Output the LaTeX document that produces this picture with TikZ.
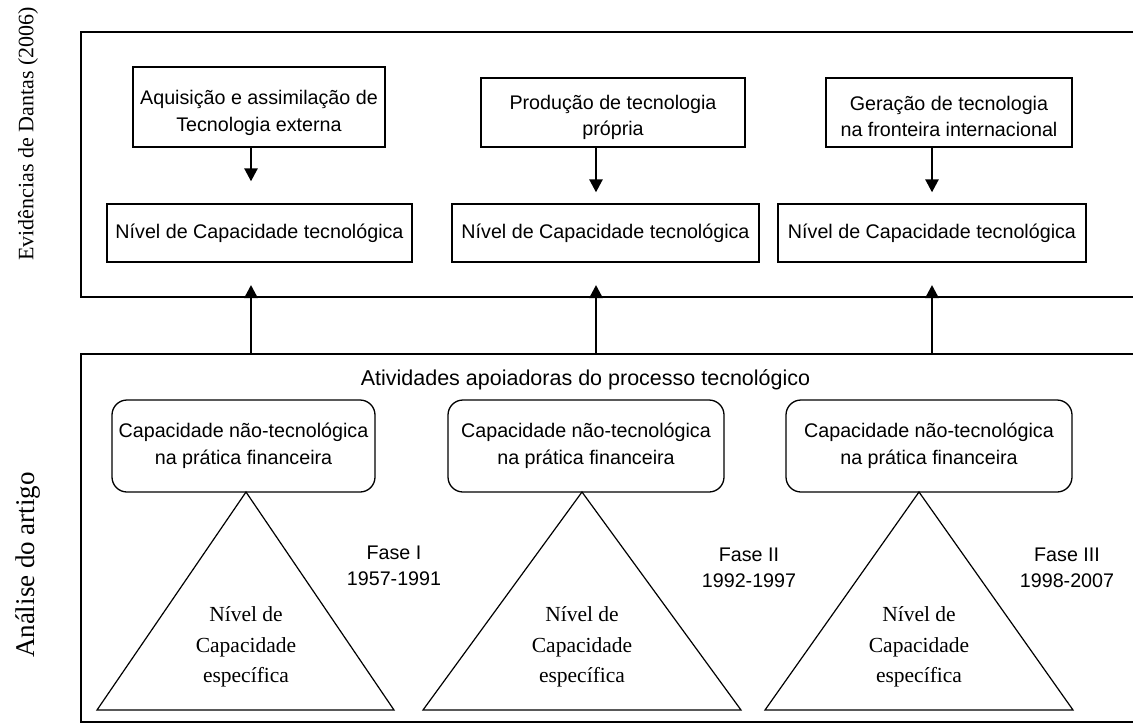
\documentclass[tikz,border=0pt]{standalone}
\usepackage{fontspec}
\setmainfont{Liberation Sans}
\newfontfamily\tms{Liberation Serif}
\usetikzlibrary{arrows.meta}
\begin{document}
\begin{tikzpicture}[x=1pt,y=-1pt,
  frame/.style={line width=1.8pt},
  box/.style={draw,line width=1.3pt,align=center,inner sep=0pt,font=\fontsize{19.7}{26.5}\selectfont},
  rbox/.style={box,rounded corners=15pt},
  lbl/.style={align=center,inner sep=0pt,font=\fontsize{19.7}{26.5}\selectfont},
  tri/.style={draw,line width=1.2pt,line join=miter},
  arr/.style={line width=2.6pt,-{Triangle[width=13pt,length=13pt]}},
  tritext/.style={align=center,inner sep=0pt,font=\tms\fontsize{21.5}{30.5}\selectfont},
  side/.style={rotate=90,inner sep=0pt,font=\tms\fontsize{22}{26}\selectfont},
]
\useasboundingbox (0,0) rectangle (1133,726);
\fill[white] (0,0) rectangle (1133,726);

% outer frames (open at the right)
\draw[frame] (1140,32) -- (81,32) -- (81,297) -- (1140,297);
\draw[frame] (1140,354) -- (81,354) -- (81,722) -- (1140,722);

% side labels
\node[side] (ev) at (28,134) {Evidências de Dantas (2006)};
\node[side,font=\tms\fontsize{27}{30}\selectfont] (an) at (28,565) {Análise do artigo};

% top boxes
\node[box,minimum width=252pt,minimum height=80pt] (t1) at (259,107) {\rule{0pt}{26pt}Aquisição e assimilação de\\Tecnologia externa};
\node[box,minimum width=264pt,minimum height=69pt] (t2) at (613,112.5) {\rule{0pt}{24pt}Produção de tecnologia\\própria};
\node[box,minimum width=246pt,minimum height=69pt] (t3) at (949,112.5) {\rule{0pt}{22pt}Geração de tecnologia\\na fronteira internacional};

\node[box,minimum width=305pt,minimum height=58pt] (n1) at (259.5,233) {Nível de Capacidade tecnológica};
\node[box,minimum width=307pt,minimum height=58pt] (n2) at (605.5,233) {Nível de Capacidade tecnológica};
\node[box,minimum width=308pt,minimum height=58pt] (n3) at (932,233) {Nível de Capacidade tecnológica};

\coordinate (ax1) at (251,0);
\coordinate (ax2) at (596,0);
\coordinate (ax3) at (932,0);

\draw[arr,shorten >=22pt] (t1.south -| ax1) -- (n1.north -| ax1);
\draw[arr,shorten >=11pt] (t2.south -| ax2) -- (n2.north -| ax2);
\draw[arr,shorten >=11pt] (t3.south -| ax3) -- (n3.north -| ax3);

% up arrows between the frames
\coordinate (u1s) at (251,354); \coordinate (u1e) at (251,285);
\coordinate (u2s) at (596,354); \coordinate (u2e) at (596,285);
\coordinate (u3s) at (932,354); \coordinate (u3e) at (932,285);
\draw[arr] (u1s) -- (u1e);
\draw[arr] (u2s) -- (u2e);
\draw[arr] (u3s) -- (u3e);

% bottom section
\node[lbl,font=\fontsize{21.5}{26}\selectfont] (atv) at (585.5,380) {Atividades apoiadoras do processo tecnológico};

\node[rbox,minimum width=263pt,minimum height=92pt] (r1) at (243.5,446) {Capacidade não-tecnológica\\na prática financeira};
\node[rbox,minimum width=276pt,minimum height=92pt] (r2) at (586,446) {Capacidade não-tecnológica\\na prática financeira};
\node[rbox,minimum width=286pt,minimum height=92pt] (r3) at (929,446) {Capacidade não-tecnológica\\na prática financeira};

\draw[tri] (246,492) -- (394,710) -- (97,710) -- cycle;
\draw[tri] (582,492) -- (741,710) -- (423,710) -- cycle;
\draw[tri] (919,492) -- (1073,710) -- (765,710) -- cycle;

\node[tritext] (s1) at (246,647) {Nível de\\Capacidade\\específica};
\node[tritext] (s2) at (582,647) {Nível de\\Capacidade\\específica};
\node[tritext] (s3) at (919,647) {Nível de\\Capacidade\\específica};

\node[lbl] (f1) at (394,566) {Fase I\\1957-1991};
\node[lbl] (f2) at (749,568) {Fase II\\1992-1997};
\node[lbl] (f3) at (1067,568) {Fase III\\1998-2007};
\end{tikzpicture}
\end{document}
